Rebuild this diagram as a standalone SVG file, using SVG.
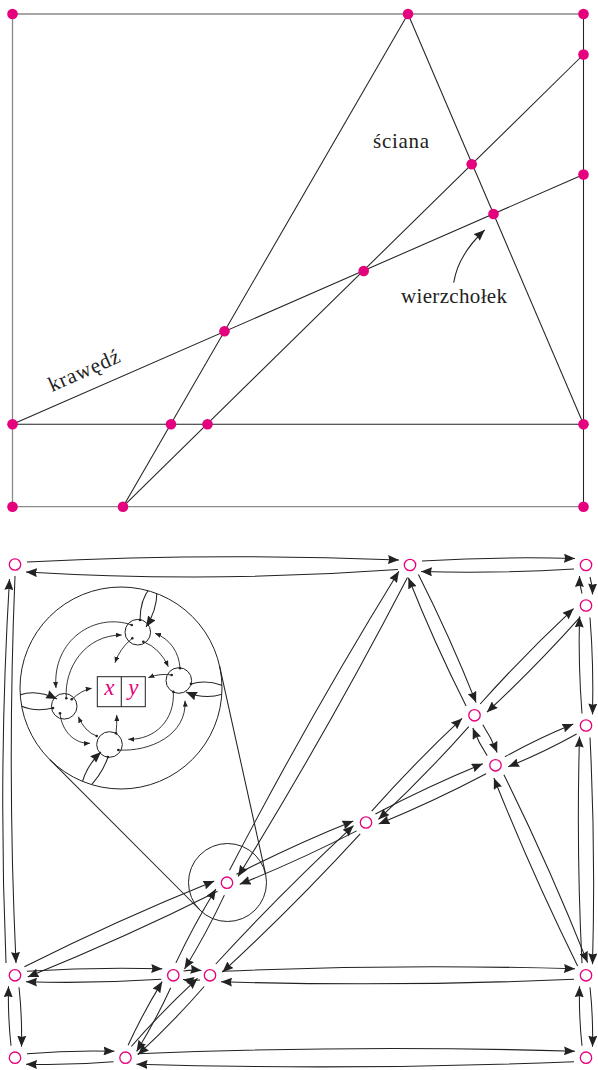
<svg xmlns="http://www.w3.org/2000/svg" width="598" height="1070" viewBox="0 0 598 1070">
<style>
.bd{stroke:#8a8a8a;stroke-width:1.3;fill:none}
.ed{stroke:#222;stroke-width:1.05;fill:none}
.ar{stroke:#222;stroke-width:1.05;fill:none;marker-end:url(#ah)}
.sa{stroke:#222;stroke-width:0.9;fill:none;marker-end:url(#as)}
.pt{fill:#e5007d}
.nd{fill:#fff;stroke:#e5007d;stroke-width:1.3}
.lbl{font-family:"Liberation Serif","DejaVu Serif",serif;font-size:21px;fill:#222}
.mv{font-family:"Liberation Serif","DejaVu Serif",serif;font-style:italic;font-size:23px;fill:#e5007d;text-anchor:middle}
.dot{fill:#222}
.ring{stroke:#222;stroke-width:1;fill:none}
</style>
<defs>
<marker id="ah" viewBox="0 0 11 9" refX="11" refY="4.5" markerWidth="11" markerHeight="9" markerUnits="userSpaceOnUse" orient="auto"><path d="M0,0 L11,4.5 L0,9 L1.2,4.5 z" fill="#222"/></marker>
<marker id="as" viewBox="0 0 6 5" refX="6" refY="2.5" markerWidth="6" markerHeight="5" markerUnits="userSpaceOnUse" orient="auto"><path d="M0,0 L6,2.5 L0,5 z" fill="#222"/></marker>
<clipPath id="bigclip"><circle cx="121" cy="688" r="101"/></clipPath>
</defs>

<!-- ===== Top diagram ===== -->
<g id="top-border">
<path class="bd" d="M12.5,14 H583.5 M12.5,14 V506.7 H583.5"/>
</g>
<g id="top-edges">
<path class="ed" d="M583.5,14 V506.7"/>
<path class="ed" d="M12.5,424.2 H583.5"/>
<path class="ed" d="M408,14 L123,506.7"/>
<path class="ed" d="M408,14 L583.5,424.2"/>
<path class="ed" d="M583.5,54.5 L123,506.7"/>
<path class="ed" d="M583.5,174.5 L12.5,424.2"/>
<path class="ar" d="M453.7,282.7 Q458,255 484.7,230"/>
</g>
<g id="top-vertices">
<circle class="pt" id="vA" cx="12.5" cy="14" r="5.3"/>
<circle class="pt" id="vB" cx="408" cy="14" r="5.3"/>
<circle class="pt" id="vC" cx="583.5" cy="14" r="5.3"/>
<circle class="pt" id="vD" cx="583.5" cy="54.5" r="5.3"/>
<circle class="pt" id="vE" cx="471.7" cy="164.3" r="5.3"/>
<circle class="pt" id="vF" cx="583.5" cy="174.5" r="5.3"/>
<circle class="pt" id="vG" cx="493.5" cy="214" r="5.3"/>
<circle class="pt" id="vH" cx="363.7" cy="271" r="5.3"/>
<circle class="pt" id="vI" cx="224.5" cy="331.3" r="5.3"/>
<circle class="pt" id="vJ" cx="12.5" cy="424.2" r="5.3"/>
<circle class="pt" id="vK" cx="171" cy="424.2" r="5.3"/>
<circle class="pt" id="vL" cx="207.5" cy="424.2" r="5.3"/>
<circle class="pt" id="vM" cx="583.5" cy="424.2" r="5.3"/>
<circle class="pt" id="vN" cx="12.5" cy="506.7" r="5.3"/>
<circle class="pt" id="vO" cx="123" cy="506.7" r="5.3"/>
<circle class="pt" id="vP" cx="583.5" cy="506.7" r="5.3"/>
</g>
<g id="top-labels">
<text class="lbl" x="373" y="148" textLength="56">ściana</text>
<text class="lbl" x="401" y="303" textLength="106">wierzchołek</text>
<text class="lbl" x="52" y="392" textLength="76" transform="rotate(-23.6 52 392)">krawędź</text>
</g>

<!-- ===== Bottom diagram ===== -->
<g id="inset">
<circle class="ring" cx="121" cy="688" r="101"/>
<circle class="ring" cx="227.5" cy="882.5" r="39"/>
<path class="ed" d="M219.6,666.2 L265.6,874.1 M49.5,759.3 L199.9,910"/>
<g clip-path="url(#bigclip)">
<path class="ed" d="M140,620 Q140,595 156,582"/>
<path class="ar" d="M156,582 Q160,605 146,627"/>
<path class="ed" d="M191,684 Q210,678 232,690"/>
<path class="ar" d="M232,690 Q210,702 186,692"/>
<path class="ar" d="M10,700 Q30,686 57,699"/>
<path class="ed" d="M53,708 Q30,714 10,700"/>
<path class="ar" d="M80,795 Q82,770 101,752"/>
<path class="ed" d="M108,757 Q100,780 80,795"/>
</g>
<g id="inset-darts">
<circle class="ring" cx="137.8" cy="632.2" r="12.8"/>
<circle class="ring" cx="178.8" cy="680.5" r="12.8"/>
<circle class="ring" cx="109.5" cy="744.5" r="12.8"/>
<circle class="ring" cx="64.2" cy="706.3" r="12.8"/>
</g>
<g id="inset-box">
<rect class="ring" x="97.3" y="676.7" width="48" height="30"/>
<path class="ed" d="M121.3,676.7 V706.7"/>
<text class="mv" x="109.3" y="695">x</text>
<text class="mv" x="133.3" y="695">y</text>
</g>
<g id="inset-arrows">
<path class="sa" d="M131.7,625 C95,612 52,640 56,688"/>
<path class="sa" d="M66.3,698.3 C64,668 85,635 121.7,635"/>
<path class="sa" d="M132.3,638.3 Q120,648 115,662.7"/>
<path class="sa" d="M143.3,641.7 Q160,648 168.3,666.7"/>
<path class="sa" d="M180,668.3 C179,652 170,639 155,633.3"/>
<path class="sa" d="M171.7,675 Q160,673 148.3,677.7"/>
<path class="sa" d="M173.3,691.7 C175,720 155,740 128.3,739.3"/>
<path class="sa" d="M118.3,750 C150,752 187,735 185,700.7"/>
<path class="sa" d="M96.7,736 Q85,732 78.3,716.7"/>
<path class="sa" d="M60,713.3 C62,732 75,744 90,743.3"/>
<path class="sa" d="M71.7,699.3 Q82,690 91.7,688.3"/>
<path class="sa" d="M116,733.3 Q117,725 116.7,715"/>
</g>
<g id="inset-dots">
<circle class="dot" cx="131.7" cy="625" r="1.3"/>
<circle class="dot" cx="132.3" cy="638.3" r="1.3"/>
<circle class="dot" cx="143.3" cy="641.7" r="1.3"/>
<circle class="dot" cx="140" cy="620" r="1.3"/>
<circle class="dot" cx="180" cy="668.3" r="1.3"/>
<circle class="dot" cx="171.7" cy="675" r="1.3"/>
<circle class="dot" cx="173.3" cy="691.7" r="1.3"/>
<circle class="dot" cx="191" cy="684" r="1.3"/>
<circle class="dot" cx="118.3" cy="750" r="1.3"/>
<circle class="dot" cx="96.7" cy="736" r="1.3"/>
<circle class="dot" cx="116" cy="733.3" r="1.3"/>
<circle class="dot" cx="108" cy="757" r="1.3"/>
<circle class="dot" cx="66.3" cy="698.3" r="1.3"/>
<circle class="dot" cx="60" cy="713.3" r="1.3"/>
<circle class="dot" cx="71.7" cy="699.3" r="1.3"/>
<circle class="dot" cx="53" cy="708" r="1.3"/>
</g>
</g>

<g id="connectors">
<path class="ar" d="M27,562 Q212.5,552.5 399,560"/>
<path class="ar" d="M398,569.5 Q212.5,583 26,572"/>
<path class="ar" d="M422,561 Q498,556.4 575,558.5"/>
<path class="ar" d="M574,569 Q498,573.6 421,571.5"/>
<path class="ar" d="M590,577 Q592.6,585.3 592.5,594.5"/>
<path class="ar" d="M582,593.5 Q579.4,585.3 579.5,576"/>
<path class="ar" d="M590,617.5 Q593.8,665.5 592.5,714.5"/>
<path class="ar" d="M582,713.5 Q578.2,665.5 579.5,616.5"/>
<path class="ar" d="M590,737.5 Q595.7,850.4 592.5,964.3"/>
<path class="ar" d="M582,963.3 Q576.3,850.4 579.5,736.5"/>
<path class="ar" d="M590,987.3 Q593.2,1016.5 592.5,1046.7"/>
<path class="ar" d="M582,1045.7 Q578.8,1016.5 579.5,986.3"/>
<path class="ar" d="M15,576 Q7,770 16,963"/>
<path class="ar" d="M6,963 Q-2,770 9.5,579"/>
<path class="ar" d="M19,987.3 Q22.2,1016.5 21.5,1046.7"/>
<path class="ar" d="M11,1045.7 Q7.8,1016.5 8.5,986.3"/>
<path class="ar" d="M27,1053.7 Q70.3,1050 114.5,1051.2"/>
<path class="ar" d="M113.5,1061.7 Q70.3,1065.4 26,1064.2"/>
<path class="ar" d="M137.5,1053.7 Q355.8,1044.8 575,1051.2"/>
<path class="ar" d="M574,1061.7 Q355.8,1070.6 136.5,1064.2"/>
<path class="ar" d="M418.4,574.4 Q450,636.8 476.1,702.6"/>
<path class="ar" d="M466.1,705.9 Q434.5,643.5 408.4,577.7"/>
<path class="ar" d="M482.8,724.8 Q491.3,737.7 497.2,752.6"/>
<path class="ar" d="M487.2,755.8 Q478.7,742.9 472.8,728"/>
<path class="ar" d="M503.9,774.7 Q549.4,866.6 587.6,962.6"/>
<path class="ar" d="M577.6,965.9 Q532.1,874 493.9,778"/>
<path class="ar" d="M580.3,616.8 Q536.1,666.4 486.9,712.2"/>
<path class="ar" d="M480.2,704 Q524.4,654.5 573.6,608.6"/>
<path class="ar" d="M468.8,726.6 Q426.1,774.8 378.4,819.4"/>
<path class="ar" d="M371.7,811.2 Q414.4,763 462.1,718.4"/>
<path class="ar" d="M360.2,833.8 Q294.5,905.5 222.4,972.2"/>
<path class="ar" d="M215.8,964 Q281.5,892.3 353.6,825.6"/>
<path class="ar" d="M204.2,986.5 Q173.2,1022.1 137.9,1054.7"/>
<path class="ar" d="M131.3,1046.5 Q162.3,1010.9 197.6,978.3"/>
<path class="ar" d="M576.6,734 Q543.8,752.3 508.2,766.8"/>
<path class="ar" d="M504.9,756.8 Q537.7,738.5 573.3,724"/>
<path class="ar" d="M486.1,773.8 Q434,801.3 378.7,824"/>
<path class="ar" d="M375.4,814 Q427.5,786.5 482.8,763.8"/>
<path class="ar" d="M356.6,830.9 Q299.8,860.2 239.7,884.3"/>
<path class="ar" d="M236.4,874.3 Q293.2,845 353.3,820.9"/>
<path class="ar" d="M217.6,891.2 Q124.8,937.7 27.7,976.9"/>
<path class="ar" d="M24.4,966.8 Q117.2,920.3 214.3,881.1"/>
<path class="ar" d="M407.5,577.4 Q328.5,729.6 238.1,876.4"/>
<path class="ar" d="M229.5,870.3 Q308.5,718.1 398.9,571.3"/>
<path class="ar" d="M224.4,895.1 Q206.7,932.8 184.5,969"/>
<path class="ar" d="M175.9,962.9 Q193.6,925.2 215.9,889"/>
<path class="ar" d="M170.7,987.7 Q155.8,1020.2 136.6,1051.5"/>
<path class="ar" d="M128.1,1045.3 Q143,1012.8 162.2,981.6"/>
<path class="ar" d="M27,971.3 Q94.2,966.9 162.3,968.8"/>
<path class="ar" d="M161.3,979.3 Q94.2,983.7 26,981.8"/>
<path class="ar" d="M183.5,971 Q192.5,969.5 201.5,970.5"/>
<path class="ar" d="M200,980 Q191.5,981 183,979.5"/>
<path class="ar" d="M222,971.3 Q398,963.7 575,968.8"/>
<path class="ar" d="M574,979.3 Q398,986.9 221,981.8"/>
</g>

<g id="n1"><circle class="nd" cx="15" cy="564.5" r="5.7"/></g>
<g id="n2"><circle class="nd" cx="410" cy="565" r="5.7"/></g>
<g id="n3"><circle class="nd" cx="586" cy="565" r="5.7"/></g>
<g id="n4"><circle class="nd" cx="586" cy="605.5" r="5.7"/></g>
<g id="n5"><circle class="nd" cx="474.5" cy="715.3" r="5.7"/></g>
<g id="n6"><circle class="nd" cx="586" cy="725.5" r="5.7"/></g>
<g id="n7"><circle class="nd" cx="495.5" cy="765.3" r="5.7"/></g>
<g id="n8"><circle class="nd" cx="366" cy="822.5" r="5.7"/></g>
<g id="n9"><circle class="nd" cx="227" cy="882.7" r="5.7"/></g>
<g id="n10"><circle class="nd" cx="15" cy="975.3" r="5.7"/></g>
<g id="n11"><circle class="nd" cx="173.3" cy="975.3" r="5.7"/></g>
<g id="n12"><circle class="nd" cx="210" cy="975.3" r="5.7"/></g>
<g id="n13"><circle class="nd" cx="586" cy="975.3" r="5.7"/></g>
<g id="n14"><circle class="nd" cx="15" cy="1057.7" r="5.7"/></g>
<g id="n15"><circle class="nd" cx="125.5" cy="1057.7" r="5.7"/></g>
<g id="n16"><circle class="nd" cx="586" cy="1057.7" r="5.7"/></g>
</svg>
